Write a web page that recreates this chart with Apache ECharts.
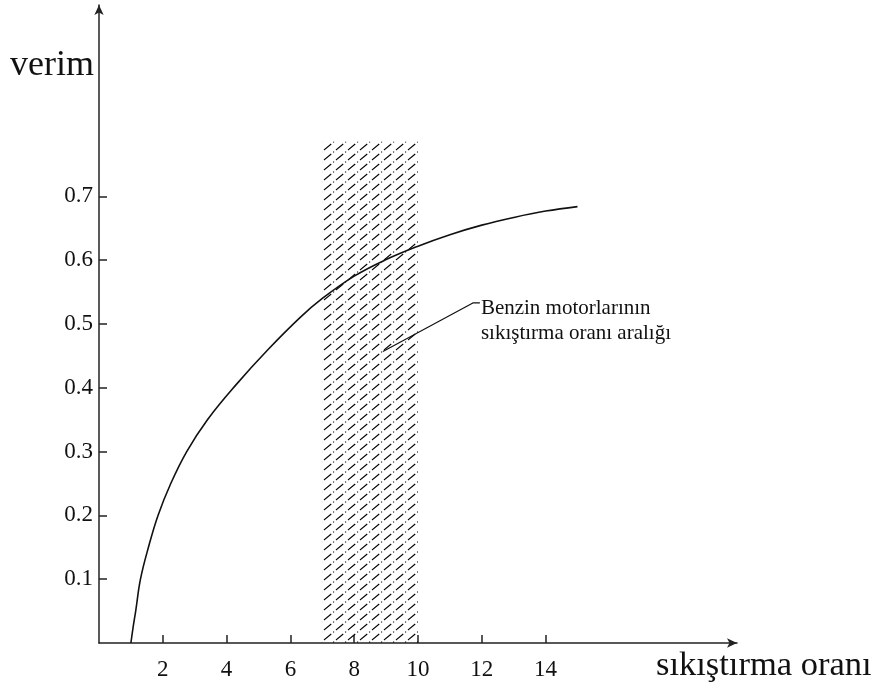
<!DOCTYPE html>
<html>
<head>
<meta charset="utf-8">
<script src="https://cdn.jsdelivr.net/npm/echarts@6/dist/echarts.min.js"></script>
<style>
  html, body { margin: 0; padding: 0; background: #fff; }
  #chart { width: 880px; height: 690px; }
</style>
</head>
<body>
<div id="chart"></div>
<script>
// Otto-cycle efficiency against compression ratio
var ratio = [1.0, 1.07, 1.15, 1.3, 1.55, 1.85, 2.25, 2.75, 3.4, 4.3, 5.3, 6.3, 7.0, 8.0, 9.0, 10.0, 11.0, 12.0, 13.0, 14.0, 15.0];
var efficiency = [0.0, 0.025, 0.05, 0.1, 0.15, 0.2, 0.25, 0.3, 0.35, 0.405, 0.46, 0.51, 0.54, 0.575, 0.601, 0.622, 0.64, 0.655, 0.667, 0.677, 0.684];

// Typical petrol engine compression range (shaded band)
var bandX = [7, 10];
var bandTop = 0.786;

// Leader line from the band to its note
var leaderX = [8.9, 11.72, 11.94];
var leaderY = [0.457, 0.533, 0.533];
var noteLines = ['Benzin motorlarının', 'sıkıştırma oranı aralığı'];

var xTicks = [2, 4, 6, 8, 10, 12, 14];
var yTicks = [0.1, 0.2, 0.3, 0.4, 0.5, 0.6, 0.7];

var yTitle = 'verim';
var xTitle = 'sıkıştırma oranı';

function zip(a, b) { return a.map(function (v, i) { return [v, b[i]]; }); }

// Dash-dot diagonal hatch tile (seamless: one diagonal per tile)
function hatchTile() {
  var W = 12, H = 10;
  var L = Math.sqrt(W * W + H * H);
  var c = document.createElement('canvas');
  c.width = W; c.height = H;
  var g = c.getContext('2d');
  g.strokeStyle = '#000';
  g.lineWidth = 1.1;
  g.setLineDash([L - 6.2, 2.5, 1.2, 2.5]);
  for (var i = -1; i <= 1; i++) {
    for (var j = -1; j <= 1; j++) {
      g.beginPath();
      g.moveTo(i * W, H + j * H);
      g.lineTo(W + i * W, j * H);
      g.stroke();
    }
  }
  return c;
}

var serif = '"Liberation Serif", "Times New Roman", serif';
var chart = echarts.init(document.getElementById('chart'), null, { renderer: 'canvas' });

chart.setOption({
  animation: false,
  backgroundColor: '#fff',
  grid: { left: 99, right: 143, top: 5, bottom: 47, containLabel: false },
  xAxis: {
    type: 'value', min: 0, max: 20,
    splitLine: { show: false },
    axisLine: { show: true, lineStyle: { color: '#222', width: 1.5 },
      symbol: ['none', 'arrow'], symbolSize: [7, 10] },
    axisTick: { show: true, inside: true, length: 8, customValues: xTicks,
      lineStyle: { color: '#222', width: 1.5 } },
    axisLabel: { customValues: xTicks, margin: 15, color: '#111',
      fontFamily: serif, fontSize: 23 }
  },
  yAxis: {
    type: 'value', min: 0, max: 1,
    splitLine: { show: false },
    axisLine: { show: true, lineStyle: { color: '#222', width: 1.5 },
      symbol: ['none', 'arrow'], symbolSize: [7, 10] },
    axisTick: { show: true, inside: true, length: 8, customValues: yTicks,
      lineStyle: { color: '#222', width: 1.5 } },
    axisLabel: { customValues: yTicks, margin: 6, color: '#111',
      fontFamily: serif, fontSize: 23,
      formatter: function (v) { return v.toFixed(1); } }
  },
  graphic: [
    { type: 'text', left: 10, top: 48,
      style: { text: yTitle, font: '36px ' + serif, fill: '#111' } },
    { type: 'text', left: 656, top: 648,
      style: { text: xTitle, font: '34.5px ' + serif, fill: '#111' } }
  ],
  series: [
    {
      type: 'line', name: 'band', data: [], silent: true,
      markArea: {
        silent: true,
        itemStyle: { color: { image: hatchTile(), repeat: 'repeat' } },
        data: [[{ xAxis: bandX[0], yAxis: 0 }, { xAxis: bandX[1], yAxis: bandTop }]]
      }
    },
    {
      type: 'line', name: 'verim', data: zip(ratio, efficiency),
      smooth: 0.4, showSymbol: false, z: 5,
      lineStyle: { color: '#111', width: 1.6 }
    },
    {
      type: 'line', name: 'not', data: zip(leaderX, leaderY),
      showSymbol: false, z: 6,
      lineStyle: { color: '#111', width: 1.2 },
      endLabel: {
        show: true, formatter: noteLines.join('\n'),
        fontFamily: serif, fontSize: 21, color: '#111',
        lineHeight: 25, align: 'left', verticalAlign: 'top',
        offset: [1, -7], distance: 0
      }
    }
  ]
});
</script>
</body>
</html>
